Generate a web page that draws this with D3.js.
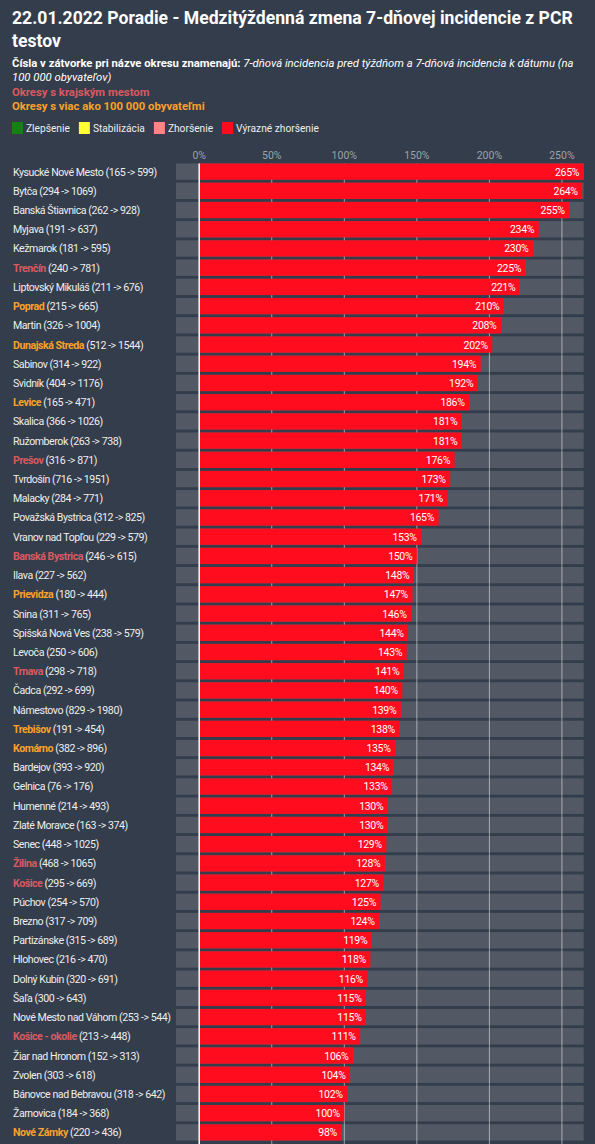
<!DOCTYPE html>
<html>
<head>
<meta charset="utf-8">
<script src="https://cdn.jsdelivr.net/npm/d3@7"></script>
<style>
  html, body { margin: 0; padding: 0; background: #343d4b; }
  svg { display: block; font-family: Roboto, "Noto Sans", sans-serif; }
</style>
</head>
<body>
<div id="chart"></div>
<script>
// districts, sorted by change
var districts = ["Kysucké Nové Mesto", "Bytča", "Banská Štiavnica", "Myjava", "Kežmarok", "Trenčín",
  "Liptovský Mikuláš", "Poprad", "Martin", "Dunajská Streda", "Sabinov", "Svidník", "Levice", "Skalica",
  "Ružomberok", "Prešov", "Tvrdošín", "Malacky", "Považská Bystrica", "Vranov nad Topľou",
  "Banská Bystrica", "Ilava", "Prievidza", "Snina", "Spišská Nová Ves", "Levoča", "Trnava", "Čadca",
  "Námestovo", "Trebišov", "Komárno", "Bardejov", "Gelnica", "Humenné", "Zlaté Moravce", "Senec",
  "Žilina", "Košice", "Púchov", "Brezno", "Partizánske", "Hlohovec", "Dolný Kubín", "Šaľa",
  "Nové Mesto nad Váhom", "Košice - okolie", "Žiar nad Hronom", "Zvolen", "Bánovce nad Bebravou",
  "Žarnovica", "Nové Zámky"];

// 7-day incidence a week ago / at date
var incBefore = [165, 294, 262, 191, 181, 240, 211, 215, 326, 512, 314, 404, 165, 366, 263, 316, 716, 284,
  312, 229, 246, 227, 180, 311, 238, 250, 298, 292, 829, 191, 382, 393, 76, 214, 163, 448, 468, 295,
  254, 317, 315, 216, 320, 300, 253, 213, 152, 303, 318, 184, 220];
var incAfter = [599, 1069, 928, 637, 595, 781, 676, 665, 1004, 1544, 922, 1176, 471, 1026, 738, 871, 1951,
  771, 825, 579, 615, 562, 444, 765, 579, 606, 718, 699, 1980, 454, 896, 920, 176, 493, 374, 1025,
  1065, 669, 570, 709, 689, 470, 691, 643, 544, 448, 313, 618, 642, 368, 436];

// week-on-week change in %
var changes = [265, 264, 255, 234, 230, 225, 221, 210, 208, 202, 194, 192, 186, 181, 181, 176, 173, 171,
  165, 153, 150, 148, 147, 146, 144, 143, 141, 140, 139, 138, 135, 134, 133, 130, 130, 129, 128, 127,
  125, 124, 119, 118, 116, 115, 115, 111, 106, 104, 102, 100, 98];

// 0 = normal, 1 = krajské mesto, 2 = viac ako 100 000 obyvateľov
var districtType = [0, 0, 0, 0, 0, 1, 0, 2, 0, 2, 0, 0, 2, 0, 0, 1, 0, 0, 0, 0, 1, 0, 2, 0, 0, 0, 1, 0,
  0, 2, 2, 0, 0, 0, 0, 0, 1, 1, 0, 0, 0, 0, 0, 0, 0, 1, 0, 0, 0, 0, 2];

var xTicks = [0, 50, 100, 150, 200, 250];
var legendLabels = ["Zlepšenie", "Stabilizácia", "Zhoršenie", "Výrazné zhoršenie"];
var legendColors = ["#168016", "#ffff33", "#ff8585", "#ff0d1f"];

var W = 595, H = 1144;
var typeColor = ["#eeeeee", "#d85a61", "#f9a12a"];

var svg = d3.select("#chart").append("svg")
  .attr("width", W).attr("height", H);

svg.append("rect").attr("width", W).attr("height", H).attr("fill", "#343d4b");

// title
var title = svg.append("text")
  .attr("fill", "#ffffff").attr("font-size", 17.6).attr("font-weight", "bold");
title.append("tspan").attr("x", 12).attr("y", 24)
  .text("22.01.2022 Poradie - Medzitýždenná zmena 7-dňovej incidencie z PCR");
title.append("tspan").attr("x", 12).attr("y", 47).text("testov");

// subtitle
var sub = svg.append("text").attr("font-size", 11.3).attr("fill", "#ffffff");
sub.append("tspan").attr("x", 12).attr("y", 67).attr("font-weight", "bold")
  .text("Čísla v zátvorke pri názve okresu znamenajú: ");
sub.append("tspan").attr("font-style", "italic")
  .text("7-dňová incidencia pred týždňom a 7-dňová incidencia k dátumu (na");
svg.append("text").attr("x", 12).attr("y", 81).attr("font-size", 11.3)
  .attr("font-style", "italic").attr("fill", "#ffffff").text("100 000 obyvateľov)");
svg.append("text").attr("x", 12).attr("y", 96).attr("font-size", 11.3).attr("font-weight", "bold")
  .attr("fill", typeColor[1]).text("Okresy s krajským mestom");
svg.append("text").attr("x", 12).attr("y", 110).attr("font-size", 11.3).attr("font-weight", "bold")
  .attr("fill", typeColor[2]).text("Okresy s viac ako 100 000 obyvateľmi");

// legend
var lx = 12;
legendLabels.forEach(function(lbl, i) {
  var g = svg.append("g").attr("transform", "translate(" + lx + ",122)");
  g.append("rect").attr("width", 11).attr("height", 12).attr("fill", legendColors[i]);
  var t = g.append("text").attr("x", 14).attr("y", 10).attr("font-size", 10.2)
    .attr("fill", "#eeeeee").text(lbl);
  lx += 14 + t.node().getComputedTextLength() + 9;
});

// scales
var x = d3.scaleLinear().domain([-16, 265]).range([176, 583.7]);
var y = d3.scaleBand().domain(districts).range([162, 1142])
  .paddingInner(0.15).paddingOuter(0.075);

// tick labels
svg.append("g").selectAll("text").data(xTicks).join("text")
  .attr("x", function(d) { return x(d); })
  .attr("y", 158.5)
  .attr("text-anchor", "middle")
  .attr("font-size", 10.5)
  .attr("fill", "#9da2a9")
  .text(function(d) { return d + "%"; });

// gridlines
svg.append("g").selectAll("line").data(xTicks.slice(1)).join("line")
  .attr("x1", function(d) { return x(d); })
  .attr("x2", function(d) { return x(d); })
  .attr("y1", y.range()[0] + 1.4).attr("y2", H)
  .attr("stroke", "#9aa0a8").attr("stroke-width", 1);

var rows = svg.append("g").selectAll("g").data(districts).join("g")
  .attr("transform", function(d) { return "translate(0," + y(d) + ")"; });

// background track
rows.append("rect")
  .attr("x", x.range()[0])
  .attr("width", x.range()[1] - x.range()[0])
  .attr("height", y.bandwidth())
  .attr("fill", "rgba(255,255,255,0.15)");

// value bar
rows.append("rect")
  .attr("x", x(0))
  .attr("width", function(d, i) { return x(changes[i]) - x(0); })
  .attr("height", y.bandwidth())
  .attr("fill", "#ff0d1f");

rows.append("text")
  .attr("x", function(d, i) { return x(changes[i]) - 4.5; })
  .attr("y", y.bandwidth() / 2 + 4)
  .attr("text-anchor", "end")
  .attr("font-size", 10.5)
  .attr("letter-spacing", -0.3)
  .attr("fill", "#ffffff")
  .text(function(d, i) { return changes[i] + "%"; });

// district labels
var lab = rows.append("text")
  .attr("x", 13)
  .attr("y", y.bandwidth() / 2 + 4)
  .attr("font-size", 10.6)
  .attr("letter-spacing", -0.45)
  .attr("fill", "#eeeeee");
lab.append("tspan")
  .attr("font-weight", function(d, i) { return districtType[i] ? "bold" : null; })
  .attr("fill", function(d, i) { return typeColor[districtType[i]]; })
  .text(function(d) { return d; });
lab.append("tspan")
  .text(function(d, i) { return " (" + incBefore[i] + " -> " + incAfter[i] + ")"; });

// zero line
svg.append("line")
  .attr("x1", x(0)).attr("x2", x(0))
  .attr("y1", y.range()[0] + 1.4).attr("y2", H)
  .attr("stroke", "#ffffff").attr("stroke-width", 1.5);
</script>
</body>
</html>
